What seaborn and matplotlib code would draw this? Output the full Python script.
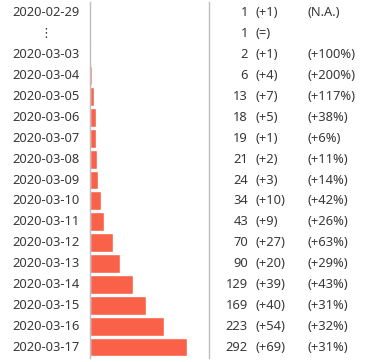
import pandas as pd
import matplotlib.pyplot as plt
import matplotlib.transforms as mtrans
import seaborn as sns

# Datos
fechas = ['2020-02-29', '⋮', '2020-03-03', '2020-03-04', '2020-03-05', '2020-03-06',
          '2020-03-07', '2020-03-08', '2020-03-09', '2020-03-10', '2020-03-11',
          '2020-03-12', '2020-03-13', '2020-03-14', '2020-03-15', '2020-03-16', '2020-03-17']
totales = [1, 1, 2, 6, 13, 18, 19, 21, 24, 34, 43, 70, 90, 129, 169, 223, 292]
cambios = ['(+1)', '(=)', '(+1)', '(+4)', '(+7)', '(+5)', '(+1)', '(+2)', '(+3)', '(+10)',
           '(+9)', '(+27)', '(+20)', '(+39)', '(+40)', '(+54)', '(+69)']
porcentajes = ['(N.A.)', '', '(+100%)', '(+200%)', '(+117%)', '(+38%)', '(+6%)', '(+11%)',
               '(+14%)', '(+42%)', '(+26%)', '(+63%)', '(+29%)', '(+43%)', '(+31%)',
               '(+32%)', '(+31%)']

df = pd.DataFrame({'fecha': fechas, 'total': totales})

sns.set_style('white')
plt.rcParams['font.family'] = ['Noto Sans', 'DejaVu Sans']

W, H = 375, 362
fig = plt.figure(figsize=(W / 100, H / 100), dpi=100)
ax = fig.add_axes([90 / W, (H - 357.5) / H, 119 / W, 355 / H])

sns.barplot(data=df, y='fecha', x='total', color='#F96248', saturation=1,
            width=0.9, orient='h', ax=ax)
ax.set_xlim(0, 358)
ax.set_xlabel('')
ax.set_ylabel('')
ax.set_xticks([])
ax.set_yticks([])
for lado in ['top', 'bottom']:
    ax.spines[lado].set_visible(False)
for lado in ['left', 'right']:
    ax.spines[lado].set_color('#bdbdbd')
    ax.spines[lado].set_linewidth(1)

color_txt = '#383838'
fs = 9.3
tr = mtrans.blended_transform_factory(fig.transFigure, ax.transData)
for i in range(len(fechas)):
    if fechas[i] == '⋮':
        ax.text(46 / W, i, fechas[i], transform=tr, ha='center', va='center',
                fontsize=fs, color=color_txt)
    else:
        ax.text(80 / W, i, fechas[i], transform=tr, ha='right', va='center',
                fontsize=fs, color=color_txt)
    ax.text(248 / W, i, str(totales[i]), transform=tr, ha='right', va='center',
            fontsize=fs, color=color_txt)
    ax.text(255 / W, i, cambios[i], transform=tr, ha='left', va='center',
            fontsize=fs, color=color_txt)
    ax.text(307 / W, i, porcentajes[i], transform=tr, ha='left', va='center',
            fontsize=fs, color=color_txt)

fig.savefig('out.png', dpi=100)
